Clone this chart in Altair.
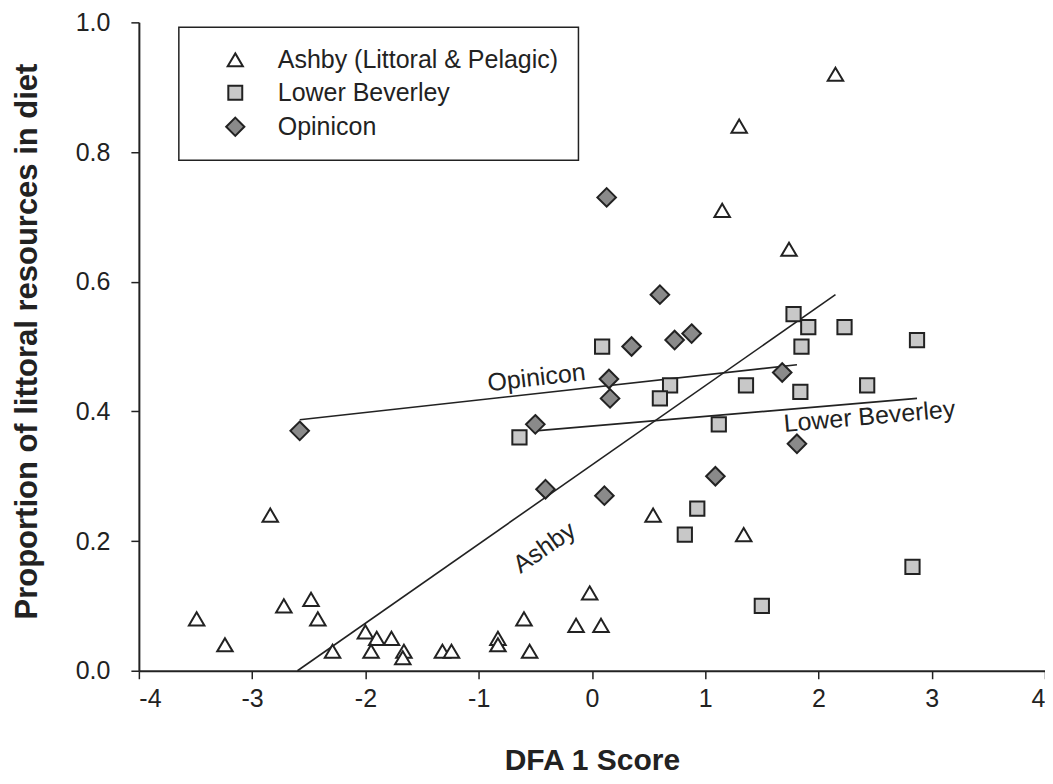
import altair as alt
import pandas as pd

# ---- data ----
ashby_x = [-3.49, -3.24, -2.84, -2.72, -2.48, -2.42, -2.29, -2.00, -1.90, -1.77, -1.95,
           -1.66, -1.67, -1.32, -1.24, -0.83, -0.83, -0.60, -0.55, -0.14, -0.02, 0.08,
           0.54, 1.34, 2.15, 1.30, 1.15, 1.74]
ashby_y = [0.08, 0.04, 0.24, 0.10, 0.11, 0.08, 0.03, 0.06, 0.05, 0.05, 0.03,
           0.03, 0.02, 0.03, 0.03, 0.05, 0.04, 0.08, 0.03, 0.07, 0.12, 0.07,
           0.24, 0.21, 0.92, 0.84, 0.71, 0.65]

lb_x = [0.09, 0.69, 0.60, -0.64, 1.12, 1.36, 1.78, 1.91, 1.85, 1.84, 2.23, 2.87,
        2.43, 2.83, 0.93, 0.82, 1.50]
lb_y = [0.50, 0.44, 0.42, 0.36, 0.38, 0.44, 0.55, 0.53, 0.50, 0.43, 0.53, 0.51,
        0.44, 0.16, 0.25, 0.21, 0.10]

op_x = [0.13, 0.60, 0.35, 0.73, 0.88, 0.15, 0.16, -0.50, 1.68, 1.81, 1.09, -0.41,
        0.11, -2.58]
op_y = [0.73, 0.58, 0.50, 0.51, 0.52, 0.45, 0.42, 0.38, 0.46, 0.35, 0.30, 0.28,
        0.27, 0.37]

sites = ["Ashby (Littoral & Pelagic)", "Lower Beverley", "Opinicon"]

# regression lines (endpoints)
line_names = ["Ashby", "Ashby", "Opinicon", "Opinicon", "Lower Beverley", "Lower Beverley"]
line_x = [-2.60, 2.15, -2.58, 1.81, -0.50, 2.87]
line_y = [0.00, 0.58, 0.387, 0.472, 0.370, 0.420]

# line labels
label_text = ["Ashby", "Opinicon", "Lower Beverley"]
label_x = [-0.42, -0.49, 2.45]
label_y = [0.19, 0.452, 0.392]
label_angle = [325, 353.5, 355]

# ---- tables ----
pts = pd.DataFrame({
    "x": ashby_x + lb_x + op_x,
    "y": ashby_y + lb_y + op_y,
    "site": [sites[0]] * len(ashby_x) + [sites[1]] * len(lb_x) + [sites[2]] * len(op_x),
})
lines = pd.DataFrame({"name": line_names, "x": line_x, "y": line_y})
labels = pd.DataFrame({"text": label_text, "x": label_x, "y": label_y, "angle": label_angle})

INK = "#222222"
FONT = "Liberation Sans"
tri = "M 0 -0.85 L 1 0.85 L -1 0.85 Z"
sq = "M -0.92 -0.92 L 0.92 -0.92 L 0.92 0.92 L -0.92 0.92 Z"
dia = "M 0 -1.2 L 1.2 0 L 0 1.2 L -1.2 0 Z"

xs = alt.Scale(domain=[-4, 4], nice=False, zero=False)
ys = alt.Scale(domain=[0, 1], nice=False, zero=False)

xaxis = alt.Axis(values=list(range(-4, 5)), labelExpr="'' + datum.value", title="DFA 1 Score",
                 titleFontSize=30, titleFontWeight="bold", titleColor=INK, titleFont=FONT,
                 titleY=90, titleBaseline="middle",
                 labelFontSize=25, labelColor=INK, labelPadding=8, labelFont=FONT,
                 tickSize=8, tickColor=INK, tickWidth=1.5,
                 domainColor=INK, domainWidth=2, grid=False)
yaxis = alt.Axis(values=[0, 0.2, 0.4, 0.6, 0.8, 1.0], format=".1f",
                 title="Proportion of littoral resources in diet",
                 titleFontSize=31, titleFontWeight="bold", titleColor=INK, titleFont=FONT,
                 titleX=-111, titleY=319, titleAngle=270, titleAlign="center",
                 titleBaseline="middle",
                 labelFontSize=25, labelColor=INK, labelPadding=21, labelFont=FONT,
                 tickSize=8, tickColor=INK, tickWidth=1.5,
                 domainColor=INK, domainWidth=2, grid=False)

reg = alt.Chart(lines).mark_line(color=INK, strokeWidth=1.6).encode(
    x=alt.X("x:Q", scale=xs, axis=xaxis),
    y=alt.Y("y:Q", scale=ys, axis=yaxis),
    detail="name:N",
)

points = alt.Chart(pts).mark_point(filled=True, strokeWidth=2, opacity=1, size=240).encode(
    x=alt.X("x:Q", scale=xs, axis=xaxis),
    y=alt.Y("y:Q", scale=ys, axis=yaxis),
    shape=alt.Shape("site:N", scale=alt.Scale(domain=sites, range=[tri, sq, dia]),
                    legend=alt.Legend(title=None)),
    fill=alt.Fill("site:N", scale=alt.Scale(domain=sites, range=["#ffffff", "#c8c8c8", "#8a8a8a"]),
                  legend=alt.Legend(title=None)),
    stroke=alt.Stroke("site:N", scale=alt.Scale(domain=sites, range=[INK, INK, INK]),
                      legend=alt.Legend(title=None)),
)

txt = alt.Chart(labels).mark_text(font=FONT, fontSize=25, color=INK, align="center",
                                  baseline="middle").encode(
    x=alt.X("x:Q", scale=xs, axis=xaxis),
    y=alt.Y("y:Q", scale=ys, axis=yaxis),
    text="text:N",
    angle=alt.Angle("angle:Q", scale=None),
)

chart = alt.layer(reg, points, txt).properties(
    width=907, height=649,
    autosize=alt.AutoSizeParams(type="none"),
    padding={"left": 131, "top": 14, "right": 0, "bottom": 105},
).configure(font=FONT).configure_view(stroke=None).configure_legend(
    orient="none", legendX=40, legendY=5,
    strokeColor=INK, strokeWidth=1.5, padding=20,
    symbolOffset=24, labelOffset=30, labelFontSize=25, labelColor=INK, labelFont=FONT,
    symbolSize=230, symbolStrokeWidth=2,
    rowPadding=7, labelLimit=500,
)

chart.save("out.html", embed_options={"renderer": "svg", "actions": False})
